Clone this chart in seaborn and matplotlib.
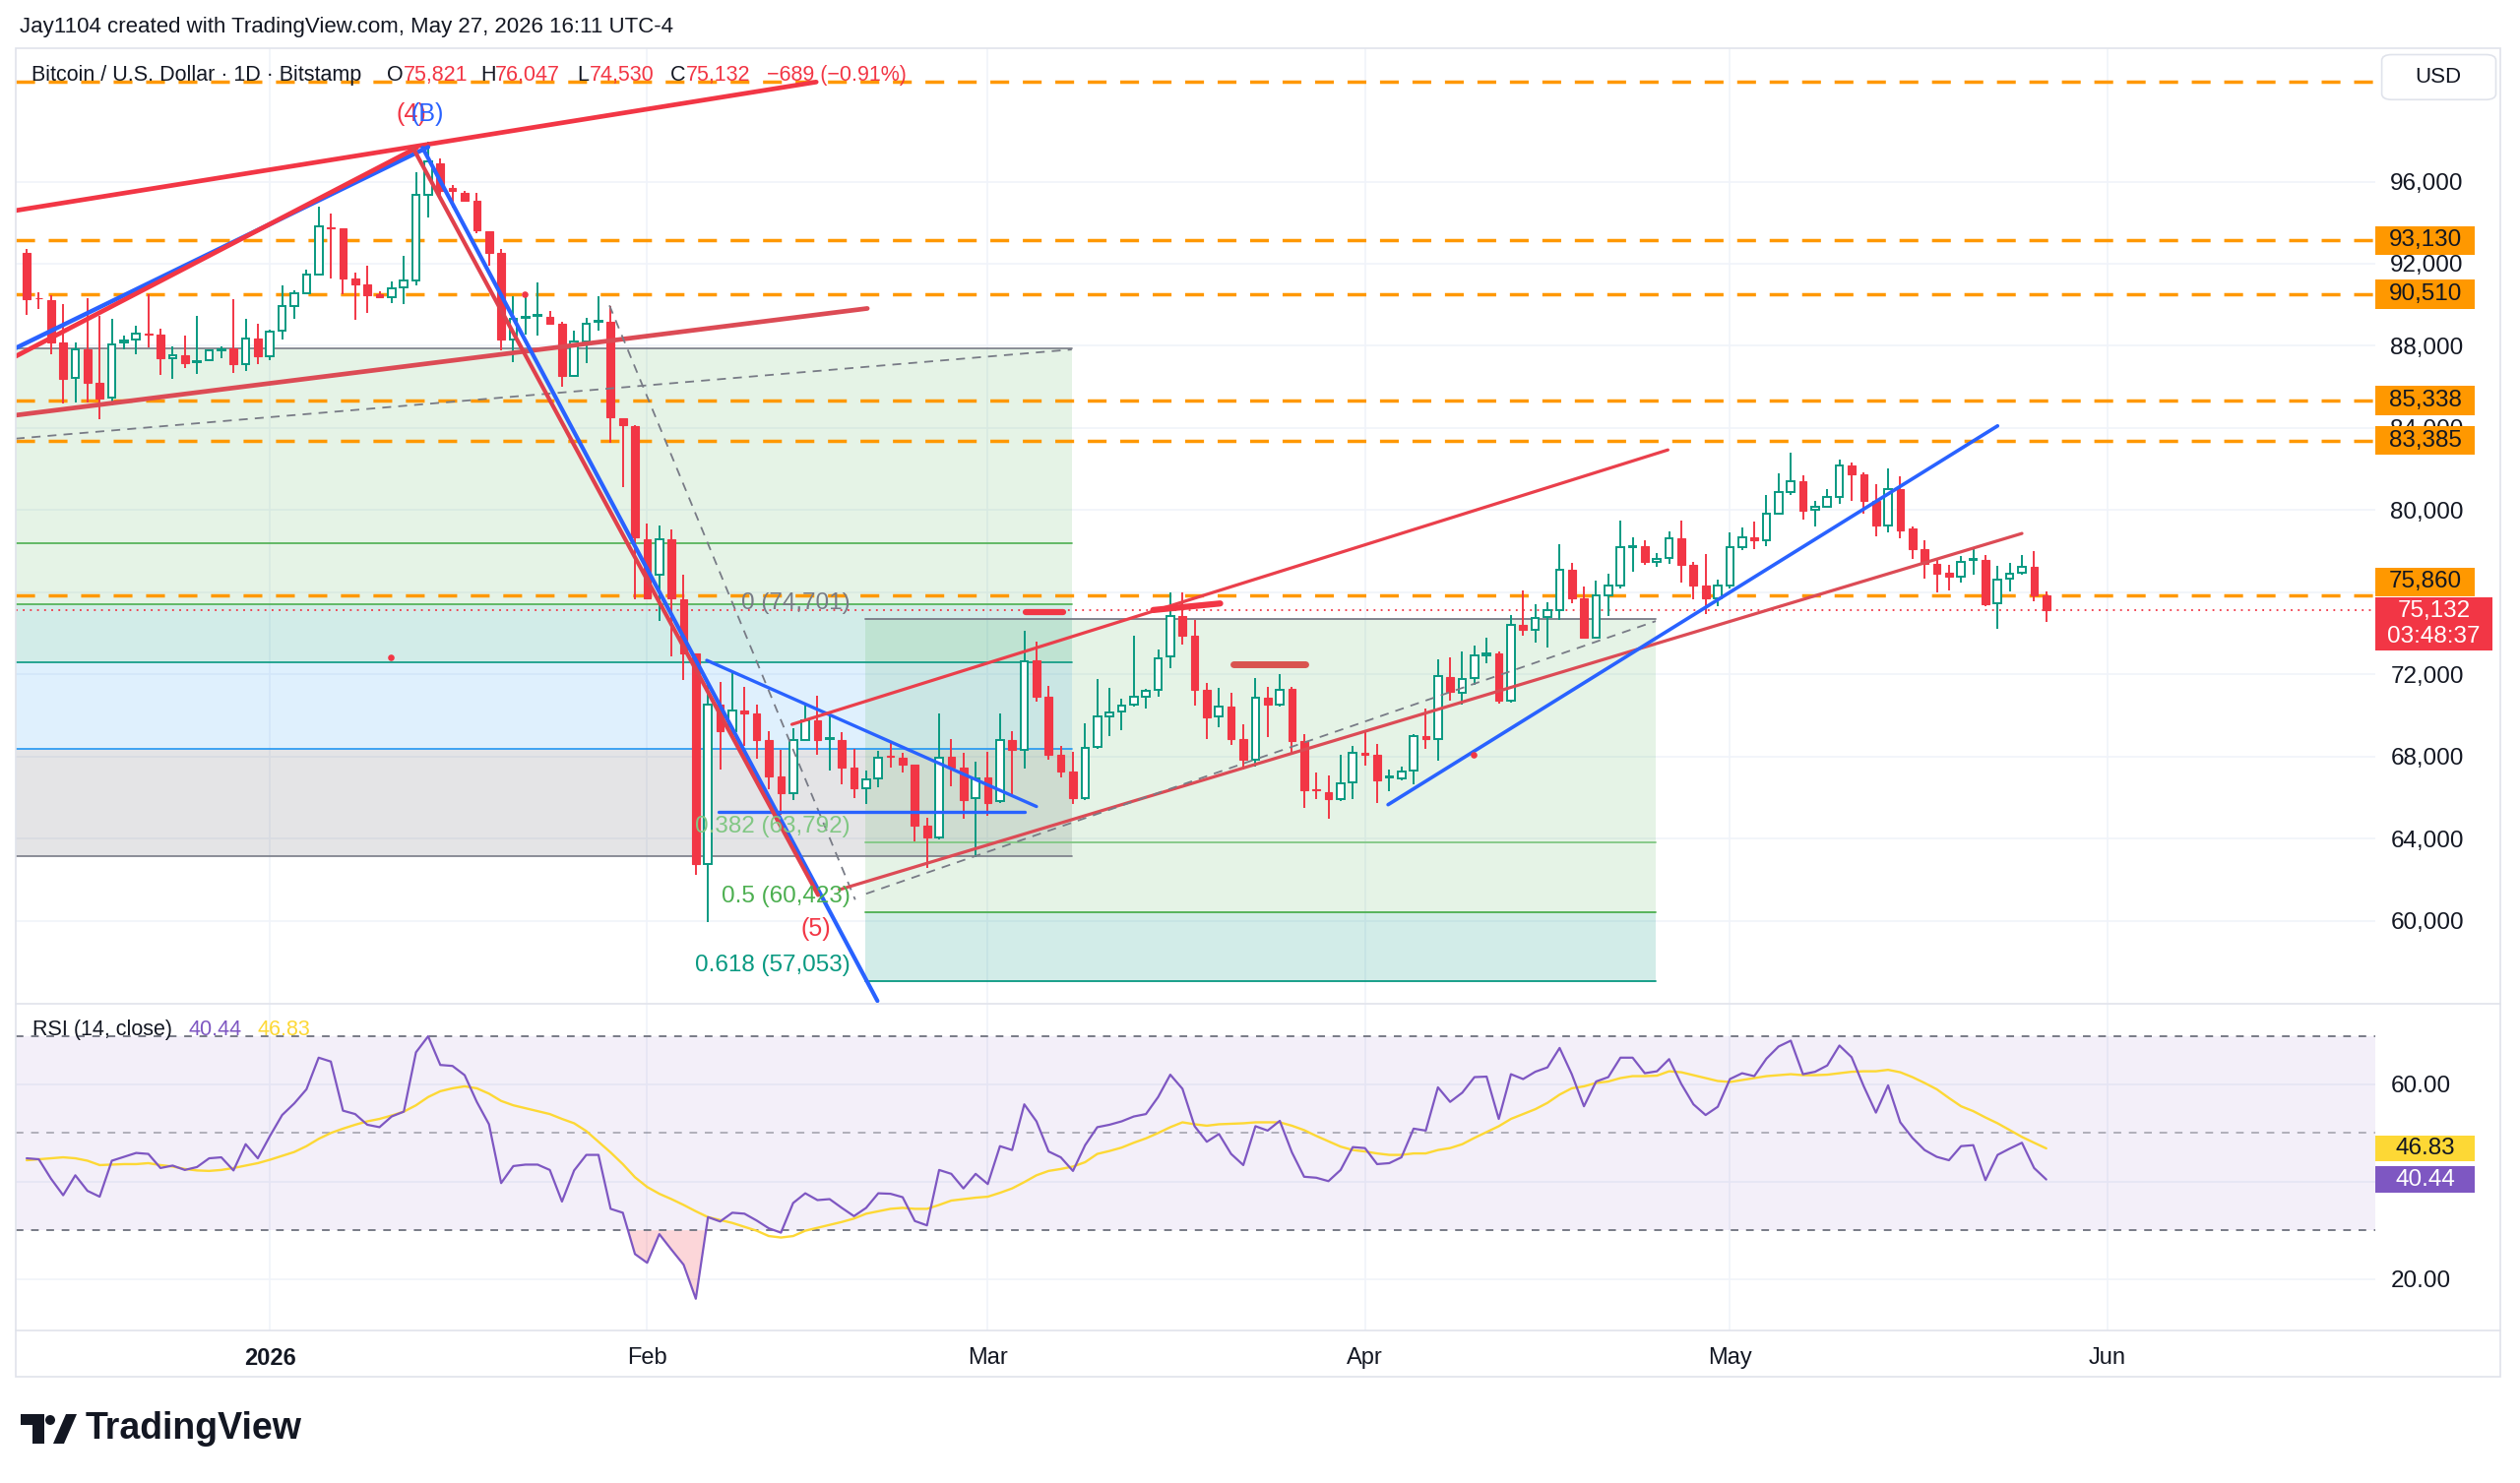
import pandas as pd
import numpy as np
import matplotlib
matplotlib.use("Agg")
import matplotlib.pyplot as plt
import matplotlib.transforms as mtransforms
from matplotlib.patches import Rectangle, Polygon, Ellipse, FancyBboxPatch
from matplotlib.lines import Line2D
import seaborn as sns

# ---- daily candles, Bitstamp BTC/USD, 2025-12-12 .. 2026-05-27
first_day = "2025-12-12"
last_day = "2026-05-27"

opens = [92510, 90340, 90240, 88170, 86430, 87850, 86190, 85470, 88140, 88300,
         88600, 88570, 87420, 87560, 87200, 87290, 87800, 87860, 87130, 88360,
         87500, 88740, 89960, 90580, 91490, 93780, 93730, 91280, 91010, 90530,
         90370, 90850, 91200, 95360, 96870, 95680, 95470, 95050, 93570, 92530,
         88320, 89340, 89450, 89420, 89090, 86540, 88190, 89150, 89150, 84480,
         84070, 78600, 76870, 78600, 75630, 73020, 62780, 70500, 69220, 70260,
         70100, 68790, 67030, 66230, 68790, 69780, 68850, 68820, 67460, 66470,
         66950, 68020, 67940, 67590, 64640, 64060, 67970, 67460, 65950, 66980,
         65820, 68790, 68340, 72660, 70900, 68100, 67260, 65980, 68460, 69970,
         70170, 70530, 70930, 71240, 72850, 74830, 73890, 71240, 69930, 70440,
         68860, 67850, 70840, 70530, 71290, 68730, 66380, 66280, 65930, 66730,
         68170, 68090, 66970, 66940, 67290, 69000, 68840, 71880, 71090, 71840,
         72900, 73040, 70730, 74400, 74180, 74790, 75140, 77070, 75700, 73800,
         75830, 76310, 78200, 78260, 77460, 77670, 78620, 77350, 76310, 75700,
         76310, 78190, 78660, 78540, 79820, 80890, 81420, 80010, 80170, 80650,
         82170, 81740, 80460, 79260, 81020, 79100, 78100, 77380, 76950, 76760,
         77570, 77550, 75460, 76640, 76950, 77230, 75821]
highs = [92740, 90610, 90480, 90020, 88140, 90340, 89450, 89330, 88500, 88980,
         90530, 88850, 87980, 88500, 89460, 87850, 87980, 90290, 89290, 89090,
         88770, 90930, 90690, 91700, 94800, 94420, 93730, 91570, 91920, 90660,
         91120, 92370, 96440, 97960, 97140, 95820, 95550, 95470, 93570, 92720,
         90410, 90600, 91070, 89700, 89150, 88740, 89370, 90410, 89920, 84480,
         84150, 79340, 79260, 79070, 76870, 73020, 71660, 71620, 72100, 71380,
         70500, 69220, 68340, 69380, 70500, 70950, 70100, 69190, 68370, 67300,
         68260, 68690, 68180, 67590, 64990, 70070, 68850, 68180, 67730, 68210,
         70100, 69220, 74130, 73610, 71430, 68530, 68210, 69590, 71770, 71340,
         70810, 73890, 71290, 73200, 76000, 76000, 74670, 71560, 71330, 71080,
         69560, 71800, 71370, 72000, 71400, 69080, 67240, 67050, 68090, 68490,
         69290, 68620, 67340, 67500, 69100, 70330, 72720, 72840, 73120, 73410,
         73790, 73120, 74880, 76080, 75400, 75510, 78350, 77430, 76260, 76550,
         76900, 79500, 78670, 78540, 77910, 78940, 79500, 77470, 77860, 76630,
         78900, 79150, 79420, 80750, 81790, 82810, 81690, 80460, 81020, 82460,
         82300, 81820, 81260, 82030, 81660, 79180, 78540, 77620, 77350, 77780,
         78150, 77830, 77270, 77430, 77810, 77990, 76047]
lows = [89490, 89810, 87610, 85180, 85260, 85260, 84410, 85100, 87820, 87610,
        87900, 86570, 86410, 86920, 86620, 87260, 87380, 86700, 86760, 87100,
        87290, 88300, 89330, 90560, 91490, 91280, 90530, 89250, 89620, 90320,
        90080, 90050, 90930, 94240, 95140, 94720, 95050, 93490, 91890, 87770,
        87220, 88540, 88490, 89090, 86020, 86480, 87170, 88740, 83270, 81130,
        75630, 75690, 74590, 72890, 71730, 62230, 59950, 67340, 68900, 68500,
        67890, 66390, 65150, 65870, 68790, 68100, 67300, 66620, 65950, 65660,
        66500, 67460, 67220, 63870, 62590, 63950, 66550, 64950, 63100, 65110,
        65710, 66180, 67420, 70690, 67830, 66980, 65660, 65870, 68370, 69000,
        69260, 70440, 70330, 70890, 72320, 73470, 70490, 68840, 69420, 68570,
        67370, 67500, 68920, 70410, 68170, 65500, 65900, 64940, 65810, 65930,
        67560, 65730, 66300, 66810, 66620, 68360, 67770, 70730, 70530, 71480,
        72560, 70570, 70600, 73890, 73560, 73300, 74630, 75460, 73800, 73750,
        74840, 76180, 76980, 77310, 77220, 77380, 76470, 75670, 74950, 75320,
        76180, 78070, 78100, 78230, 79820, 80750, 79540, 79180, 80140, 80300,
        80430, 79820, 78700, 78910, 78620, 77620, 76660, 75990, 76070, 76470,
        76870, 75320, 74200, 76020, 76850, 75540, 74530]
closes = [90290, 90300, 88140, 86410, 87820, 86190, 85450, 88060, 88280, 88580,
          88530, 87380, 87540, 87140, 87260, 87780, 87850, 87100, 88360, 87500,
          88710, 89930, 90580, 91460, 93820, 93730, 91280, 91010, 90480, 90370,
          90820, 91170, 95360, 96960, 95550, 95550, 95080, 93620, 92530, 88320,
          89310, 89420, 89500, 89090, 86540, 88190, 89090, 89230, 84500, 84150,
          78650, 75690, 78600, 75690, 73020, 62780, 70500, 69220, 70260, 70100,
          68790, 67030, 66230, 68790, 69780, 68790, 68870, 67460, 66460, 66900,
          67940, 67990, 67590, 64640, 64060, 67940, 67460, 65870, 66940, 65740,
          68790, 68340, 72620, 70900, 68100, 67260, 65980, 68420, 69930, 70140,
          70490, 70930, 71210, 72800, 74830, 73890, 71240, 69900, 70440, 68860,
          67850, 70840, 70530, 71250, 68730, 66330, 66350, 65930, 66700, 68170,
          68090, 66840, 67000, 67260, 69000, 68840, 71920, 71130, 71760, 72930,
          73000, 70730, 74400, 74160, 74760, 75110, 77070, 75700, 73800, 75830,
          76310, 78190, 78260, 77460, 77630, 78620, 77350, 76310, 75700, 76310,
          78190, 78660, 78540, 79820, 80890, 81420, 79980, 80140, 80620, 82170,
          81740, 80460, 79260, 81020, 79020, 78100, 77380, 76900, 76740, 77460,
          77620, 75430, 76630, 76900, 77220, 75821, 75132]

rsi = [44.8, 44.6, 40.6, 37.2, 41.3, 38.1, 36.9, 44.3, 45.1, 45.9,
       45.7, 42.8, 43.3, 42.4, 43.0, 44.8, 45.0, 42.3, 47.7, 44.8,
       49.4, 53.7, 56.1, 59.0, 65.5, 64.7, 54.6, 53.9, 51.7, 51.2,
       53.4, 54.4, 66.6, 69.9, 64.0, 63.8, 61.9, 56.4, 51.8, 39.7,
       43.2, 43.5, 43.5, 42.4, 35.9, 42.3, 45.5, 45.5, 34.4, 33.6,
       25.1, 23.3, 29.2, 26.0, 22.9, 15.9, 32.7, 31.8, 33.6, 33.4,
       32.0, 30.4, 29.5, 35.6, 37.6, 36.2, 36.4, 34.6, 32.9, 34.6,
       37.6, 37.5, 36.8, 31.9, 31.0, 42.4, 41.6, 38.6, 41.6, 39.5,
       47.3, 46.5, 55.9, 52.4, 46.2, 45.0, 42.2, 47.5, 51.2, 51.7,
       52.4, 53.4, 53.9, 57.4, 62.0, 59.1, 51.4, 48.2, 49.8, 45.7,
       43.4, 51.4, 50.5, 52.5, 46.0, 41.0, 40.8, 40.1, 42.4, 47.1,
       46.9, 43.6, 43.8, 45.0, 50.9, 50.5, 59.4, 56.4, 58.3, 61.5,
       61.6, 52.9, 62.1, 61.1, 62.6, 63.5, 67.5, 62.1, 55.5, 60.6,
       61.5, 65.5, 65.5, 62.3, 62.7, 65.2, 60.1, 55.9, 53.7, 55.4,
       61.1, 62.3, 61.7, 65.3, 67.8, 69.0, 62.1, 62.6, 63.9, 68.0,
       65.6, 59.6, 54.2, 59.8, 52.2, 49.0, 46.5, 45.1, 44.4, 47.3,
       47.5, 40.3, 45.5, 46.8, 48.0, 42.8, 40.44]
rsi_ma = [44.4, 44.6, 44.8, 45.0, 44.8, 44.3, 43.4, 43.5, 43.6, 43.6,
          43.8, 43.4, 43.1, 42.6, 42.3, 42.2, 42.4, 42.8, 43.3, 43.8,
          44.5, 45.3, 46.1, 47.3, 48.8, 50.0, 50.9, 51.7, 52.4, 52.9,
          53.6, 54.4, 55.7, 57.4, 58.6, 59.2, 59.6, 59.2, 58.1, 56.6,
          55.7, 55.1, 54.5, 53.9, 52.9, 52.0, 50.4, 48.2, 46.0, 43.6,
          40.9, 38.9, 37.5, 36.4, 35.2, 33.9, 32.7, 32.1, 31.5, 30.7,
          29.9, 28.8, 28.5, 28.8, 29.9, 30.5, 31.1, 31.7, 32.4, 33.4,
          33.9, 34.4, 34.6, 34.4, 34.4, 35.2, 36.1, 36.4, 36.7, 36.9,
          37.7, 38.6, 39.9, 41.3, 42.2, 42.6, 43.1, 44.0, 45.7, 46.3,
          47.0, 48.0, 48.9, 50.0, 51.2, 52.2, 51.8, 51.5, 51.8, 51.9,
          52.0, 52.2, 52.2, 52.2, 51.5, 50.6, 49.4, 48.3, 47.2, 46.5,
          46.2, 45.8, 45.5, 45.5, 45.8, 45.8, 46.5, 46.9, 47.7, 49.0,
          50.2, 51.4, 52.9, 53.9, 54.9, 56.2, 57.9, 59.2, 59.6, 60.3,
          60.6, 61.3, 61.7, 61.7, 61.8, 62.7, 62.5, 61.9, 61.3, 60.7,
          60.5, 60.9, 61.3, 61.7, 61.9, 62.1, 61.9, 61.9, 62.0, 62.3,
          62.6, 62.7, 62.7, 63.0, 62.5, 61.5, 60.3, 59.0, 57.2, 55.5,
          54.5, 53.2, 52.0, 50.6, 49.2, 48.0, 46.83]

# ---- horizontal levels (orange dashed) and their tags on the price scale
levels = [100850, 93130, 90510, 85338, 83385, 75860]
level_tags = [93130, 90510, 85338, 83385, 75860]
tag_shift = {75860: 650}

# ---- price scale ticks; 76,000 sits under the 75,860 tag and is not shown
price_ticks = [60000, 64000, 68000, 72000, 76000, 80000, 84000, 88000, 92000, 96000]
hidden_price_ticks = [76000]
rsi_ticks = [20, 40, 60]
hidden_rsi_ticks = [40]

# ---- month ticks (days from 2026-01-01)
month_days = [0, 31, 59, 90, 120, 151]
month_names = ["2026", "Feb", "Mar", "Apr", "May", "Jun"]

# ---- drawings: (days from 2026-01-01, price)
wedge_top = [(-20.9, 94590), (44.9, 100850)]
wedge_red = [(-20.9, 87490), (12.06, 97650)]
wedge_blue = [(-20.9, 87890), (13.0, 97680)]
wedge_low = [(-20.9, 84620), (49.1, 89820)]
box_diag = [(-20.9, 83480), (65.9, 87820)]
drop_red = [(11.76, 97640), (45.05, 61250)]
drop_blue = [(12.55, 97640), (49.93, 56090)]
drop_dash = [(27.9, 89970), (48.1, 61020)]
tri_top = [(35.9, 72680), (63.0, 65560)]
tri_base = [(36.9, 65280), (62.0, 65280)]
chan_up = [(42.9, 69560), (114.9, 82930)]
chan_low = [(46.8, 61510), (144.0, 78860)]
chan_dash = [(49.0, 61310), (113.9, 74590)]
rise_blue = [(91.9, 65650), (142.0, 84100)]
strokes = [[(62.1, 75050), (65.2, 75050)], [(72.6, 75130), (78.1, 75450)]]
stroke_dark = [(79.2, 72490), (85.1, 72490)]
dots = [(9.9, 72840), (98.9, 68060), (20.9, 90490)]

# long-position style box (left) and fib box (right)
box1_span = (-25, 65.9)
box1_bands = [(75418, 87861, "#4CAF50", 0.14), (72600, 75418, "#089981", 0.18),
              (68374, 72600, "#2196F3", 0.14), (63131, 68374, "#787B86", 0.20)]
box1_lines = [(87861, "#787B86"), (78392, "#4CAF50"), (75418, "#4CAF50"),
              (72600, "#089981"), (68374, "#2196F3"), (63131, "#787B86")]
fib_span = (48.9, 113.9)
fib_levels = [0, 0.382, 0.5, 0.618]
fib_prices = [74701, 63792, 60423, 57053]
fib_colors = ["#787B86", "#81C784", "#4CAF50", "#089981"]

RED = "#F23645"
GREEN = "#089981"
BLUE = "#2962FF"
ORANGE = "#FF9800"
PURPLE = "#7E57C2"
YELLOW = "#FDD835"
TXT = "#131722"
GRID = "#F0F3FA"
AXIS_FS = 17.5

sns.set_theme(style="white")
plt.rcParams["font.family"] = ["Liberation Sans", "DejaVu Sans"]

W, H = 1568.0, 923.0


def fx(x):
    return x / W


def fy(y):
    return 1 - y / H


days = (pd.date_range(first_day, last_day, freq="D") - pd.Timestamp("2026-01-01")).days.to_numpy()
df = pd.DataFrame({"day": days, "open": opens, "high": highs, "low": lows, "close": closes})
df["top"] = df[["open", "close"]].max(axis=1)
df["bot"] = df[["open", "close"]].min(axis=1)
up = df["close"] >= df["open"]

fig = plt.figure(figsize=(25.6, 15.07), dpi=100)
ax = fig.add_axes([fx(10), fy(624), fx(1478) - fx(10), fy(30) - fy(624)])
rx = fig.add_axes([fx(10), fy(828), fx(1478) - fx(10), fy(625) - fy(828)], sharex=ax)

# ---- boxes
for lo, hi, c, a in box1_bands:
    ax.add_patch(Rectangle((box1_span[0], lo), box1_span[1] - box1_span[0], hi - lo,
                           facecolor=c, alpha=a, lw=0, zorder=1))
for p, c in box1_lines:
    ax.plot(box1_span, [p, p], color=c, lw=1.2, zorder=1.5)
ax.add_patch(Rectangle((fib_span[0], fib_prices[2]), fib_span[1] - fib_span[0],
                       fib_prices[0] - fib_prices[2], facecolor="#4CAF50", alpha=0.14, lw=0, zorder=1))
ax.add_patch(Rectangle((fib_span[0], fib_prices[3]), fib_span[1] - fib_span[0],
                       fib_prices[2] - fib_prices[3], facecolor="#089981", alpha=0.18, lw=0, zorder=1))
for lvl, p, c in zip(fib_levels, fib_prices, fib_colors):
    ax.plot(fib_span, [p, p], color=c, lw=1.3, zorder=1.5)
    ax.text(47.7, p + 250, f"{lvl:g} ({p:,})", color=c, fontsize=17.5, ha="right", va="bottom", zorder=6)

# ---- horizontal levels
for lv in levels:
    ax.axhline(lv, color=ORANGE, lw=2.5, ls=(0, (5.5, 4)), zorder=2)
ax.axhline(closes[-1], color=RED, lw=1.3, ls=(0, (1, 3)), zorder=2)

# ---- candles
ax.vlines(df["day"], df["top"], df["high"], colors=np.where(up, GREEN, RED), lw=1.4, zorder=3)
ax.vlines(df["day"], df["low"], df["bot"], colors=np.where(up, GREEN, RED), lw=1.4, zorder=3)
body = (df["top"] - df["bot"]).clip(lower=40)
ax.bar(df["day"][up], body[up], bottom=df["bot"][up], width=0.62,
       facecolor="white", edgecolor=GREEN, linewidth=1.4, zorder=4)
ax.bar(df["day"][~up], body[~up], bottom=df["bot"][~up], width=0.62,
       facecolor=RED, edgecolor=RED, linewidth=0.8, zorder=4)


def seg(pts, **kw):
    ax.plot([p[0] for p in pts], [p[1] for p in pts], solid_capstyle="round", **kw)


seg(wedge_top, color=RED, lw=3.4, zorder=5)
seg(wedge_blue, color=BLUE, lw=3.2, zorder=5)
seg(wedge_red, color=RED, lw=3.4, zorder=5.1)
seg(wedge_low, color="#DC4B55", lw=3.4, zorder=5)
seg(box_diag, color="#787B86", lw=1.3, ls=(0, (5, 4)), zorder=5)
seg(drop_blue, color=BLUE, lw=3.0, zorder=5)
seg(drop_red, color="#E0404C", lw=3.0, zorder=5.1)
seg(drop_dash, color="#787B86", lw=1.3, ls=(0, (5, 4)), zorder=5)
seg(tri_top, color=BLUE, lw=2.4, zorder=5)
seg(tri_base, color=BLUE, lw=2.4, zorder=5)
seg(chan_up, color="#EA3F4B", lw=2.3, zorder=5)
seg(chan_low, color="#DC4B55", lw=2.3, zorder=5)
seg(chan_dash, color="#787B86", lw=1.3, ls=(0, (5, 4)), zorder=5)
seg(rise_blue, color=BLUE, lw=2.6, zorder=5)
for s in strokes:
    seg(s, color=RED, lw=4.5, zorder=5)
seg(stroke_dark, color="#D9534F", lw=5, zorder=5)
ax.scatter([d[0] for d in dots], [d[1] for d in dots], s=14, color=RED, zorder=5)

ax.text(11.6, 99290, "(4)", color=RED, fontsize=18, ha="center", va="center", zorder=6)
ax.text(12.9, 99290, "(B)", color=BLUE, fontsize=18, ha="center", va="center", zorder=6)
ax.text(44.9, 59610, "(5)", color=RED, fontsize=18, ha="center", va="center", zorder=6)

ax.set_xlim(-20.87, 173.05)
ax.set_ylim(56009, 102496)
ax.yaxis.tick_right()
ax.set_yticks(price_ticks)
ax.set_yticklabels(["" if t in hidden_price_ticks else f"{t:,}" for t in price_ticks])
ax.tick_params(axis="y", length=0, pad=11, labelsize=AXIS_FS, labelcolor=TXT)
ax.tick_params(axis="x", length=0, labelbottom=False)
ax.grid(True, color=GRID, lw=1.2)
ax.set_axisbelow(True)

# price-scale tags
tr = mtransforms.blended_transform_factory(ax.transAxes, ax.transData)
bw = 62 / 1468
for lv in level_tags:
    yc = lv + tag_shift.get(lv, 0)
    ax.add_patch(Rectangle((1.0, yc - 700), bw, 1400, transform=tr, facecolor=ORANGE,
                           lw=0, clip_on=False, zorder=20))
    ax.text(1.0 + bw / 2, yc, f"{lv:,}", transform=tr, ha="center", va="center",
            fontsize=AXIS_FS, color=TXT, zorder=21, clip_on=False)
bw2 = 73 / 1468
ax.add_patch(Rectangle((1.0, 73148), bw2, 75731 - 73148, transform=tr, facecolor=RED,
                       lw=0, clip_on=False, zorder=20))
ax.text(1.0 + bw2 / 2, 75080, f"{closes[-1]:,}", transform=tr, ha="center", va="center",
        fontsize=AXIS_FS, color="white", zorder=21, clip_on=False)
ax.text(1.0 + bw2 / 2, 73830, "03:48:37", transform=tr, ha="center", va="center",
        fontsize=AXIS_FS, color="white", zorder=21, clip_on=False)

# ---- RSI pane
rdf = pd.DataFrame({"day": days, "rsi": rsi, "ma": rsi_ma})
rx.axhspan(30, 70, color=PURPLE, alpha=0.09, lw=0, zorder=0.6)
rx.fill_between(days, rsi, 30, where=np.array(rsi) < 30, interpolate=True,
                color=RED, alpha=0.2, lw=0, zorder=1)
for lv, a in [(70, 1.0), (50, 0.55), (30, 1.0)]:
    rx.axhline(lv, color="#787B86", alpha=a, lw=1.4, ls=(0, (4, 4)), zorder=1)
sns.lineplot(data=rdf, x="day", y="ma", ax=rx, color=YELLOW, lw=1.7, zorder=3)
sns.lineplot(data=rdf, x="day", y="rsi", ax=rx, color=PURPLE, lw=1.6, zorder=4)
rx.set_xlabel("")
rx.set_ylabel("")
rx.set_ylim(9.4, 76.5)
rx.set_xlim(-20.87, 173.05)
rx.yaxis.tick_right()
rx.set_yticks(rsi_ticks)
rx.set_yticklabels(["" if t in hidden_rsi_ticks else f"{t:.2f}" for t in rsi_ticks])
rx.set_xticks(month_days)
rx.set_xticklabels(month_names)
rx.get_xticklabels()[0].set_fontweight("bold")
rx.tick_params(axis="y", length=0, pad=11, labelsize=AXIS_FS, labelcolor=TXT)
rx.tick_params(axis="x", length=0, pad=12, labelsize=17, labelcolor=TXT)
rx.grid(True, color=GRID, lw=1.2)
rx.set_axisbelow(True)

tr2 = mtransforms.blended_transform_factory(rx.transAxes, rx.transData)
for val, fc, tc in [(rsi_ma[-1], YELLOW, TXT), (rsi[-1], PURPLE, "white")]:
    rx.add_patch(Rectangle((1.0, val - 2.65), bw, 5.3, transform=tr2, facecolor=fc,
                           lw=0, clip_on=False, zorder=20))
    rx.text(1.0 + bw / 2, val, f"{val:.2f}", transform=tr2, ha="center", va="center",
            fontsize=AXIS_FS, color=tc, zorder=21, clip_on=False)

for a in (ax, rx):
    a.set_facecolor("white")
    for s in a.spines.values():
        s.set_visible(False)

# ---- frame
fig.add_artist(Rectangle((fx(10), fy(857)), fx(1556) - fx(10), fy(30) - fy(857),
                         transform=fig.transFigure, fill=False, edgecolor="#E0E3EB", lw=1.2))
for yy in (624.5, 828):
    fig.add_artist(Line2D([fx(10), fx(1556)], [fy(yy), fy(yy)], transform=fig.transFigure,
                          color="#E0E3EB", lw=1.2))

# ---- header
fig.text(fx(12), fy(17), "Jay1104 created with TradingView.com, May 27, 2026 16:11 UTC-4",
         fontsize=16, color=TXT, va="center")
chg = closes[-1] - closes[-2]
pct = chg / closes[-2] * 100
header = [(19.5, "Bitcoin / U.S. Dollar · 1D · Bitstamp", TXT),
          (241, "O", TXT), (251, f"{opens[-1]:,}", RED),
          (299, "H", TXT), (308, f"{highs[-1]:,}", RED),
          (359, "L", TXT), (367, f"{lows[-1]:,}", RED),
          (417, "C", TXT), (427, f"{closes[-1]:,}", RED),
          (477, f"\u2212{abs(chg)} (\u2212{abs(pct):.2f}%)", RED)]
for x0, s, c in header:
    fig.text(fx(x0), fy(47), s, fontsize=15.5, color=c, va="center")

fig.add_artist(FancyBboxPatch((fx(1482), fy(62)), fx(1553) - fx(1482), fy(34) - fy(62),
                              boxstyle="round,pad=0,rounding_size=0.004", transform=fig.transFigure,
                              facecolor="white", edgecolor="#E0E3EB", lw=1.2))
fig.text(fx(1517), fy(48), "USD", fontsize=16, color=TXT, ha="center", va="center")

fig.text(fx(20), fy(641), "RSI (14, close)", fontsize=15.5, color=TXT, va="center")
fig.text(fx(117), fy(641), f"{rsi[-1]:.2f}", fontsize=15.5, color=PURPLE, va="center")
fig.text(fx(160), fy(641), f"{rsi_ma[-1]:.2f}", fontsize=15.5, color=YELLOW, va="center")

# ---- TradingView logo
OW, OH = 2560.0, 1507.0


def lp(x, y):
    return (x / OW, 1 - y / OH)


fig.add_artist(Polygon([lp(21, 1437), lp(45, 1437), lp(45, 1467), lp(33, 1467), lp(33, 1448), lp(21, 1448)],
                       closed=True, transform=fig.transFigure, facecolor=TXT, lw=0))
fig.add_artist(Ellipse(lp(51, 1443), 10 / OW, 10 / OH, transform=fig.transFigure, facecolor=TXT, lw=0))
fig.add_artist(Polygon([lp(54, 1467), lp(65, 1467), lp(78, 1437), lp(67, 1437)],
                       closed=True, transform=fig.transFigure, facecolor=TXT, lw=0))
fig.text(87 / OW, 1 - 1452 / OH, "TradingView", fontsize=27, fontweight="bold", color=TXT, va="center")

fig.savefig("out.png", dpi=100, facecolor="white")
